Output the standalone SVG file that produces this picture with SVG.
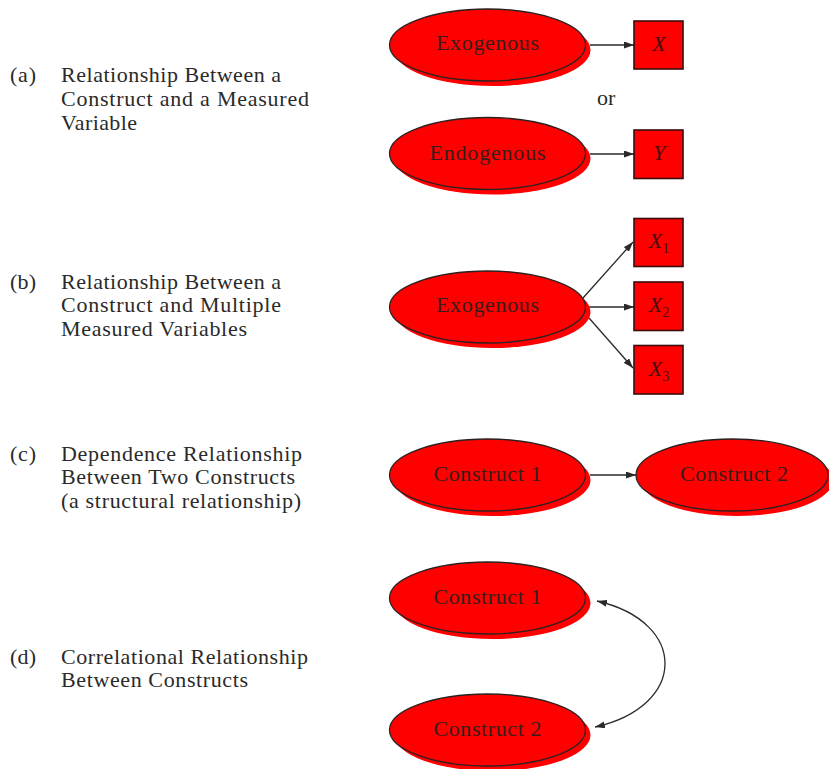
<svg xmlns="http://www.w3.org/2000/svg" width="829" height="769" viewBox="0 0 829 769">
<defs>
<style>
.sh{fill:#ff0000;stroke:none}
.el{fill:#ff0000;stroke:#2a2222;stroke-width:1.3}
.bx{fill:#ff0000;stroke:#3a0c0c;stroke-width:1.6}
.et{font-family:"Liberation Serif",serif;font-size:22px;fill:#3a1c1c;text-anchor:middle}
.bt{font-family:"Liberation Serif",serif;font-size:22px;font-style:italic;fill:#4a0e0e;text-anchor:middle}
.sub{font-family:"Liberation Serif",serif;font-size:14px;font-style:normal;fill:#4a0e0e}
.lt{font-family:"Liberation Serif",serif;font-size:22px;fill:#2a2a2a}
.cn{fill:none;stroke:#2a2a2a;stroke-width:1.3}
</style>
<marker id="ah" markerUnits="userSpaceOnUse" markerWidth="10" markerHeight="7" refX="10" refY="3.5" orient="auto-start-reverse">
<path d="M0,0 L10,3.5 L0,7 z" fill="#2a2a2a"/>
</marker>
</defs>

<g id="labels">
<g id="label-a">
<text class="lt" x="10" y="82" textLength="26">(a)</text>
<text class="lt" x="61" y="82" textLength="220" lengthAdjust="spacing">Relationship Between a</text>
<text class="lt" x="61" y="106" textLength="248" lengthAdjust="spacing">Construct and a Measured</text>
<text class="lt" x="61" y="130" textLength="76" lengthAdjust="spacing">Variable</text>
</g>
<g id="label-b">
<text class="lt" x="10" y="289" textLength="26">(b)</text>
<text class="lt" x="61" y="289" textLength="220" lengthAdjust="spacing">Relationship Between a</text>
<text class="lt" x="61" y="312" textLength="220" lengthAdjust="spacing">Construct and Multiple</text>
<text class="lt" x="61" y="336" textLength="186" lengthAdjust="spacing">Measured Variables</text>
</g>
<g id="label-c">
<text class="lt" x="10" y="461" textLength="26">(c)</text>
<text class="lt" x="61" y="461" textLength="241" lengthAdjust="spacing">Dependence Relationship</text>
<text class="lt" x="61" y="484" textLength="234" lengthAdjust="spacing">Between Two Constructs</text>
<text class="lt" x="61" y="508" textLength="240" lengthAdjust="spacing">(a structural relationship)</text>
</g>
<g id="label-d">
<text class="lt" x="10" y="664" textLength="26">(d)</text>
<text class="lt" x="61" y="664" textLength="247" lengthAdjust="spacing">Correlational Relationship</text>
<text class="lt" x="61" y="687" textLength="187" lengthAdjust="spacing">Between Constructs</text>
</g>
<text id="or" class="lt" x="597" y="105">or</text>
</g>

<g id="connectors">
<line class="cn" x1="590" y1="45" x2="634" y2="45" marker-end="url(#ah)"/>
<line class="cn" x1="590" y1="154" x2="634" y2="154" marker-end="url(#ah)"/>
<line class="cn" x1="583" y1="298" x2="633" y2="242" marker-end="url(#ah)"/>
<line class="cn" x1="589" y1="307" x2="634" y2="307" marker-end="url(#ah)"/>
<line class="cn" x1="589" y1="318" x2="633" y2="368" marker-end="url(#ah)"/>
<line class="cn" x1="590" y1="475" x2="636" y2="475" marker-end="url(#ah)"/>
<path class="cn" d="M597,601 C688,622 688,706 595,727" marker-start="url(#ah)" marker-end="url(#ah)"/>
</g>

<g id="node-a-exogenous">
<ellipse class="sh" cx="492.5" cy="50" rx="98" ry="36"/>
<ellipse class="el" cx="487.5" cy="45" rx="98" ry="36"/>
<text class="et" x="487.5" y="50" textLength="103" lengthAdjust="spacing">Exogenous</text>
</g>
<g id="node-a-x">
<rect class="bx" x="634" y="21" width="49" height="48"/>
<text class="bt" x="659" y="51">X</text>
</g>
<g id="node-a-endogenous">
<ellipse class="sh" cx="492.5" cy="158.5" rx="98" ry="36"/>
<ellipse class="el" cx="487.5" cy="153.5" rx="98" ry="36"/>
<text class="et" x="487.5" y="160" textLength="116" lengthAdjust="spacing">Endogenous</text>
</g>
<g id="node-a-y">
<rect class="bx" x="634" y="130" width="49" height="48.5"/>
<text class="bt" x="659" y="160">Y</text>
</g>

<g id="node-b-exogenous">
<ellipse class="sh" cx="492.5" cy="312" rx="98" ry="36"/>
<ellipse class="el" cx="487.5" cy="307" rx="98" ry="36"/>
<text class="et" x="487.5" y="312" textLength="103" lengthAdjust="spacing">Exogenous</text>
</g>
<g id="node-b-x1">
<rect class="bx" x="634" y="218.5" width="49" height="48"/>
<text class="bt" x="659" y="248">X<tspan class="sub" dy="5">1</tspan></text>
</g>
<g id="node-b-x2">
<rect class="bx" x="634" y="282" width="49" height="48.5"/>
<text class="bt" x="659" y="312">X<tspan class="sub" dy="5">2</tspan></text>
</g>
<g id="node-b-x3">
<rect class="bx" x="634" y="345.5" width="49" height="48.5"/>
<text class="bt" x="659" y="376">X<tspan class="sub" dy="5">3</tspan></text>
</g>

<g id="node-c-construct1">
<ellipse class="sh" cx="492.5" cy="480" rx="98" ry="36"/>
<ellipse class="el" cx="487.5" cy="475" rx="98" ry="36"/>
<text class="et" x="487.5" y="481" textLength="108" lengthAdjust="spacing">Construct 1</text>
</g>
<g id="node-c-construct2">
<ellipse class="sh" cx="737" cy="480" rx="96" ry="36"/>
<ellipse class="el" cx="732" cy="475" rx="96" ry="36"/>
<text class="et" x="734" y="481" textLength="108" lengthAdjust="spacing">Construct 2</text>
</g>

<g id="node-d-construct1">
<ellipse class="sh" cx="492.5" cy="603" rx="98" ry="36"/>
<ellipse class="el" cx="487.5" cy="598" rx="98" ry="36"/>
<text class="et" x="487.5" y="603.5" textLength="108" lengthAdjust="spacing">Construct 1</text>
</g>
<g id="node-d-construct2">
<ellipse class="sh" cx="492.5" cy="735" rx="98" ry="36"/>
<ellipse class="el" cx="487.5" cy="730" rx="98" ry="36"/>
<text class="et" x="487.5" y="735.5" textLength="108" lengthAdjust="spacing">Construct 2</text>
</g>
</svg>
